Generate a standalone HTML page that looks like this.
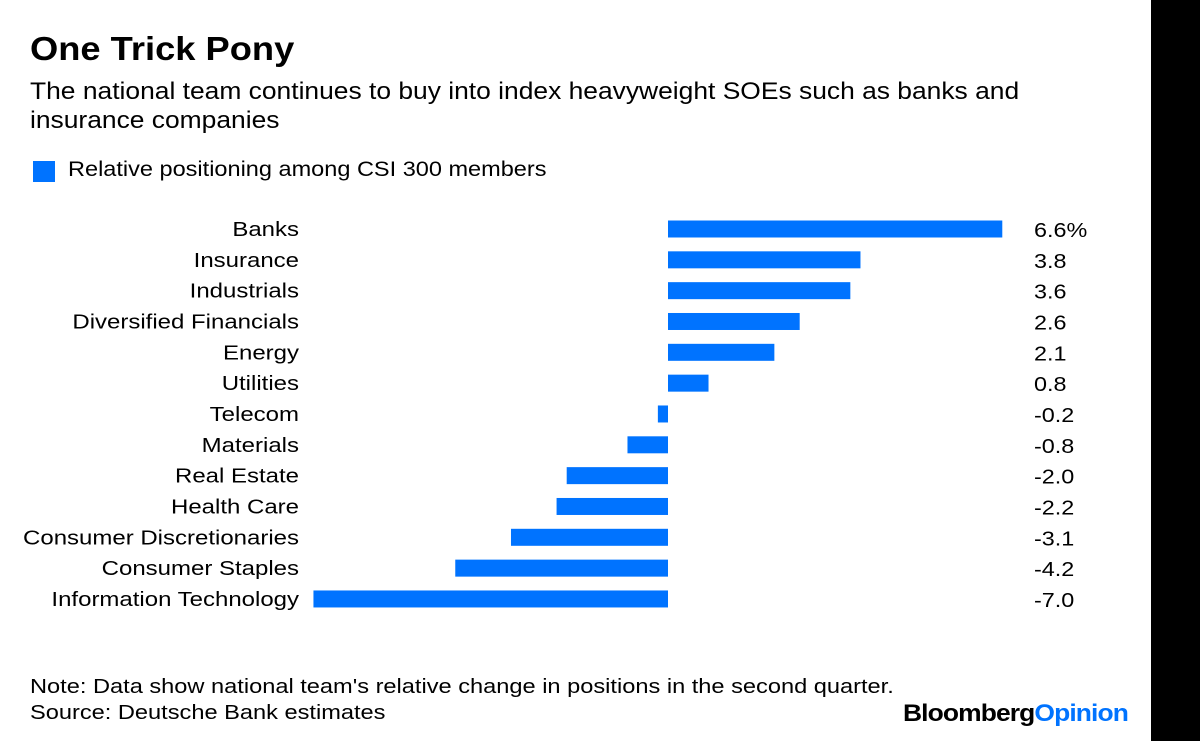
<!DOCTYPE html>
<html><head><meta charset="utf-8"><style>
body{margin:0;width:1200px;height:741px;background:#fff;font-family:"Liberation Sans",sans-serif;position:relative;overflow:hidden}
.t{position:absolute;white-space:nowrap;color:#000;transform-origin:0 0}
</style></head><body>
<div style="position:absolute;left:1151px;top:0;width:49px;height:741px;background:#000"></div>
<div class="t" style="left:30px;top:30px;font-size:33px;font-weight:bold;transform:scaleX(1.1)">One Trick Pony</div>
<div class="t" style="left:30px;top:77px;font-size:24px;line-height:29px;transform:scaleX(1.1)">The national team continues to buy into index heavyweight SOEs such as banks and<br>insurance companies</div>
<div>
<div style="position:absolute;left:33px;top:161px;width:22px;height:21px;background:#0073ff"></div>
<div class="t" style="left:68px;top:158px;font-size:21px;transform:scaleX(1.12)">Relative positioning among CSI 300 members</div>
</div>
<svg id="chart" width="1200" height="741" style="position:absolute;left:0;top:0"></svg>
<div class="t" style="left:30px;top:676px;font-size:20px;transform:scaleX(1.18)">Note: Data show national team's relative change in positions in the second quarter.</div>
<div class="t" style="left:30px;top:702px;font-size:20px;transform:scaleX(1.18)">Source: Deutsche Bank estimates</div>
<div class="t" style="left:903px;top:700px;font-size:24px;font-weight:bold;letter-spacing:-0.8px;transform:scaleX(1.1)">Bloomberg<span style="color:#0073ff">Opinion</span></div>
<script>
const categories=["Banks","Insurance","Industrials","Diversified Financials","Energy","Utilities","Telecom","Materials","Real Estate","Health Care","Consumer Discretionaries","Consumer Staples","Information Technology"];
const values=[6.6,3.8,3.6,2.6,2.1,0.8,-0.2,-0.8,-2.0,-2.2,-3.1,-4.2,-7.0];
const valueLabels=["6.6%","3.8","3.6","2.6","2.1","0.8","-0.2","-0.8","-2.0","-2.2","-3.1","-4.2","-7.0"];
const NS="http://www.w3.org/2000/svg";
const svg=document.getElementById('chart');
const x=v=>668+v*50.65;
const y=i=>229+i*30.83;
categories.forEach((c,i)=>{
  const v=values[i];
  const r=document.createElementNS(NS,'rect');
  
  
  r.setAttribute('x',Math.min(x(0),x(v)));r.setAttribute('width',Math.abs(x(v)-x(0)));
  r.setAttribute('y',y(i)-8.5);r.setAttribute('height',17);r.setAttribute('fill','#0073ff');
  svg.appendChild(r);
  const l=document.createElementNS(NS,'text');
  
  
  l.setAttribute('x',0);l.setAttribute('y',0);l.setAttribute('text-anchor','end');
  l.setAttribute('transform','translate(299,'+(y(i)+7)+') scale(1.2,1)');
  l.setAttribute('font-size','20');l.setAttribute('font-family','Liberation Sans, sans-serif');
  l.textContent=c;svg.appendChild(l);
  const t=document.createElementNS(NS,'text');
  
  
  t.setAttribute('x',0);t.setAttribute('y',0);
  t.setAttribute('transform','translate(1034,'+(y(i)+8)+') scale(1.17,1)');
  t.setAttribute('font-size','20');t.setAttribute('font-family','Liberation Sans, sans-serif');
  t.textContent=valueLabels[i];svg.appendChild(t);
});
</script>
</body></html>
